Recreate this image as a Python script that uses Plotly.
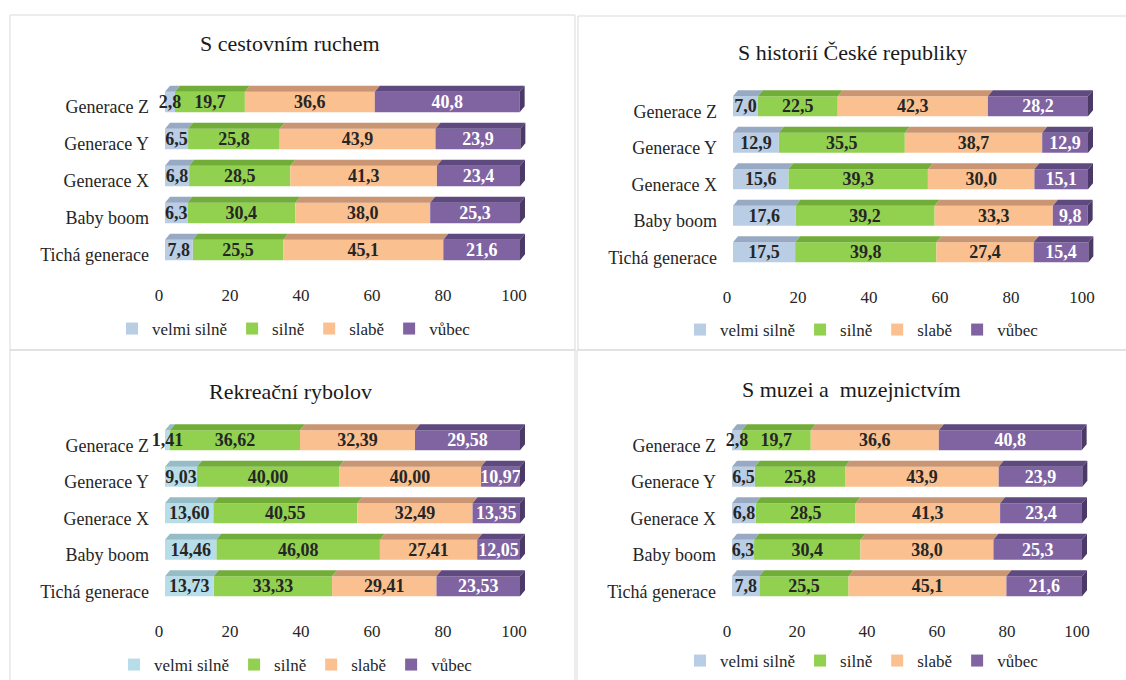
import plotly.graph_objects as go

W, H = 1126, 680

generations = ["Generace Z", "Generace Y", "Generace X", "Baby boom", "Tichá generace"]
series_names = ["velmi silně", "silně", "slabě", "vůbec"]
tick_vals = [0, 20, 40, 60, 80, 100]

# S cestovním ruchem
tourism_velmi = [2.8, 6.5, 6.8, 6.3, 7.8]
tourism_silne = [19.7, 25.8, 28.5, 30.4, 25.5]
tourism_slabe = [36.6, 43.9, 41.3, 38.0, 45.1]
tourism_vubec = [40.8, 23.9, 23.4, 25.3, 21.6]

# S historií České republiky
history_velmi = [7.0, 12.9, 15.6, 17.6, 17.5]
history_silne = [22.5, 35.5, 39.3, 39.2, 39.8]
history_slabe = [42.3, 38.7, 30.0, 33.3, 27.4]
history_vubec = [28.2, 12.9, 15.1, 9.8, 15.4]

# Rekreační rybolov
fishing_velmi = [1.41, 9.03, 13.60, 14.46, 13.73]
fishing_silne = [36.62, 40.00, 40.55, 46.08, 33.33]
fishing_slabe = [32.39, 40.00, 32.49, 27.41, 29.41]
fishing_vubec = [29.58, 10.97, 13.35, 12.05, 23.53]

# S muzei a muzejnictvím
museum_velmi = [2.8, 6.5, 6.8, 6.3, 7.8]
museum_silne = [19.7, 25.8, 28.5, 30.4, 25.5]
museum_slabe = [36.6, 43.9, 41.3, 38.0, 45.1]
museum_vubec = [40.8, 23.9, 23.4, 25.3, 21.6]

SERIF = "Liberation Serif, Times New Roman, serif"
TEXT_DARK = "#262626"

# face / top colours per series
BLUE = ("#b9cde5", "#98aac3")
CYAN = ("#b7dee8", "#96bcc6")
GREEN = ("#92d050", "#72ad3a")
ORANGE = ("#fac090", "#c99572")
PURPLE = ("#8064a2", "#5f4a80")
PURPLE_SIDE = "#4b3a68"


def fx(px):
    return px / W


def fy(py):
    return 1 - py / H


panels = [
    dict(title="S cestovním ruchem", data=[tourism_velmi, tourism_silne, tourism_slabe, tourism_vubec],
         fmt=".1f", first=BLUE, x0=165, x100=520, ytop=83.5, ybot=268.5, tshift=-6,
         title_xy=(290, 43), legend_xy=(294, 329), box=(10, 15, 575, 350)),
    dict(title="S historií České republiky", data=[history_velmi, history_silne, history_slabe, history_vubec],
         fmt=".1f", first=BLUE, x0=733, x100=1088, ytop=88, ybot=270.5, tshift=-6,
         title_xy=(852, 53), legend_xy=(862, 330), box=(578, 16, 1130, 350)),
    dict(title="Rekreační rybolov", data=[fishing_velmi, fishing_silne, fishing_slabe, fishing_vubec],
         fmt=".2f", first=CYAN, x0=165, x100=520, ytop=422, ybot=604.5, tshift=-6,
         title_xy=(290, 392), legend_xy=(296, 665), box=(10, 350, 575, 690)),
    dict(title="S muzei a  muzejnictvím", data=[museum_velmi, museum_silne, museum_slabe, museum_vubec],
         fmt=".1f", first=BLUE, x0=732, x100=1082, ytop=422, ybot=604.5, tshift=-5,
         title_xy=(851, 389), legend_xy=(862, 661), box=(577, 350, 1130, 690)),
]

FACE = 0.55     # front face thickness (category units)
DEPTH_PX = 5    # horizontal depth of the 3D bars in pixels
TOP_PX = 6      # vertical depth of the 3D bars in pixels

fig = go.Figure()
layout_extra = {}
shapes = []
annotations = []

for p_idx, p in enumerate(panels):
    sfx = "" if p_idx == 0 else str(p_idx + 1)
    xa, ya = "x" + sfx, "y" + sfx
    legend_id = "legend" + sfx
    ppu = (p["x100"] - p["x0"]) / 100.0
    row_px = (p["ybot"] - p["ytop"]) / len(generations)
    depth = DEPTH_PX / ppu
    top = TOP_PX / row_px
    xmax = 100 + depth + 0.3
    rows = list(range(len(generations)))

    palettes = [p["first"], GREEN, ORANGE, PURPLE]
    starts = []
    acc = [0.0] * len(generations)
    for vals in p["data"]:
        starts.append(list(acc))
        acc = [a + v for a, v in zip(acc, vals)]
    totals = acc

    # top faces of the 3D segments
    for s_idx, vals in enumerate(p["data"]):
        top_col = palettes[s_idx][1]
        px_, py_ = [], []
        for r, (b, v) in enumerate(zip(starts[s_idx], vals)):
            yt = r - FACE / 2
            px_ += [b, b + v, b + v + depth, b + depth, b, None]
            py_ += [yt, yt, yt - top, yt - top, yt, None]
        fig.add_trace(go.Scatter(
            x=px_, y=py_, mode="lines", fill="toself", fillcolor=top_col,
            line=dict(width=0, color=top_col), showlegend=False,
            hoverinfo="skip", xaxis=xa, yaxis=ya,
        ))

    # right-hand side faces
    sx, sy = [], []
    for r, e in enumerate(totals):
        sx += [e, e, e + depth, e + depth, e, None]
        sy += [r - FACE / 2, r + FACE / 2, r + FACE / 2 - top, r - FACE / 2 - top, r - FACE / 2, None]
    fig.add_trace(go.Scatter(
        x=sx, y=sy, mode="lines", fill="toself", fillcolor=PURPLE_SIDE,
        line=dict(width=0, color=PURPLE_SIDE), showlegend=False,
        hoverinfo="skip", xaxis=xa, yaxis=ya,
    ))

    # front faces; the first series goes last so its labels sit on top
    for s_idx in [1, 2, 3, 0]:
        name, vals = series_names[s_idx], p["data"][s_idx]
        face_col = palettes[s_idx][0]
        txt_col = "white" if s_idx == 3 else TEXT_DARK
        fig.add_trace(go.Bar(
            orientation="h", y=rows, x=vals, base=starts[s_idx],
            width=FACE, offset=-FACE / 2,
            marker=dict(color=face_col, line=dict(width=0)),
            name=name, legend=legend_id, showlegend=True, legendrank=s_idx + 1,
            texttemplate="<b>%{x:" + p["fmt"] + "}</b>",
            textposition="inside", insidetextanchor="middle",
            constraintext="none", textangle=0, cliponaxis=False,
            textfont=dict(family=SERIF, size=18, color=txt_col),
            xaxis=xa, yaxis=ya, hoverinfo="skip",
        ))

    x_right = p["x0"] + xmax * ppu
    layout_extra["xaxis" + sfx] = dict(
        domain=[fx(p["x0"]), fx(x_right)], range=[0, xmax], anchor=ya,
        tickvals=tick_vals, ticktext=[str(t) for t in tick_vals],
        showgrid=False, zeroline=False, showline=False, ticks="",
        automargin=False,
        ticklabelstandoff=14, ticklabelshift=p["tshift"],
        tickfont=dict(family=SERIF, size=17, color=TEXT_DARK), fixedrange=True,
    )
    layout_extra["yaxis" + sfx] = dict(
        domain=[fy(p["ybot"]), fy(p["ytop"])], range=[len(generations) - 0.5, -0.5],
        anchor=xa, tickvals=rows, ticktext=generations,
        showgrid=False, zeroline=False, showline=False, ticks="",
        automargin=False,
        ticklabelstandoff=15, ticklabelshift=-5,
        tickfont=dict(family=SERIF, size=18, color=TEXT_DARK), fixedrange=True,
    )
    layout_extra[legend_id] = dict(
        orientation="h", x=fx(p["legend_xy"][0]), y=fy(p["legend_xy"][1]),
        xanchor="center", yanchor="middle", itemwidth=30,
        font=dict(family=SERIF, size=17, color=TEXT_DARK),
        bgcolor="rgba(0,0,0,0)", traceorder="normal",
        itemclick=False, itemdoubleclick=False,
    )
    annotations.append(dict(
        text=p["title"], x=fx(p["title_xy"][0]), y=fy(p["title_xy"][1]),
        xref="paper", yref="paper", xanchor="center", yanchor="middle",
        showarrow=False, font=dict(family=SERIF, size=22, color="#1a1a1a"),
    ))
    bx0, by0, bx1, by1 = p["box"]
    shapes.append(dict(
        type="rect", xref="paper", yref="paper",
        x0=fx(bx0), x1=fx(bx1), y0=fy(by1), y1=fy(by0),
        line=dict(color="#d9d9d9", width=1), fillcolor="rgba(0,0,0,0)", layer="below",
    ))

fig.update_layout(
    width=W, height=H, margin=dict(l=0, r=0, t=0, b=0, autoexpand=False),
    paper_bgcolor="white", plot_bgcolor="rgba(0,0,0,0)",
    barmode="overlay", separators=", ",
    shapes=shapes, annotations=annotations,
    font=dict(family=SERIF, color=TEXT_DARK),
    **layout_extra,
)

fig.write_html("out.html")
